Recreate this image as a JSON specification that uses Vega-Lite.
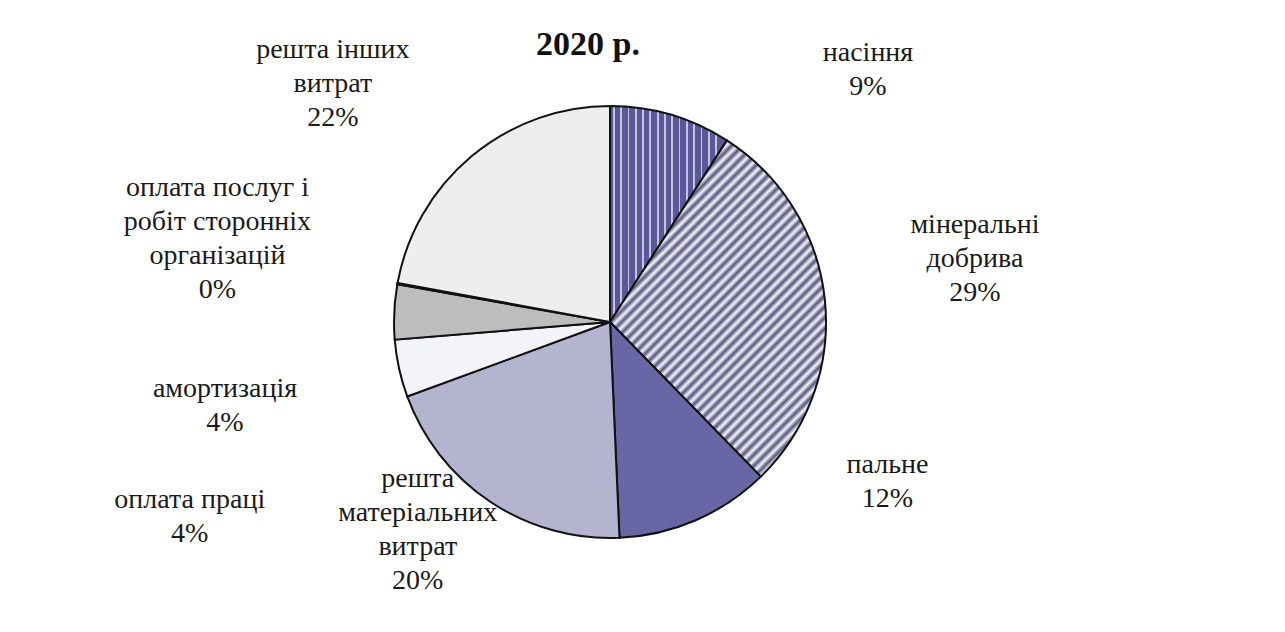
{
  "$schema": "https://vega.github.io/schema/vega-lite/v6.json",
  "autosize": {"type": "none"},
  "width": 1220,
  "height": 620,
  "padding": {"left": 0, "top": 12, "right": 65, "bottom": 0},
  "background": "white",
  "config": {"view": {"stroke": null}},
  "title": {"text": "2020 р.", "frame": "group", "font": "Liberation Serif", "fontSize": 34, "fontWeight": "bold", "color": "#111", "anchor": "middle", "dx": -22, "offset": -50},
  "data": {"values": [
    {"cat": "насіння", "value": 9.1, "order": 1, "label": "насіння\n9%"},
    {"cat": "мінеральні добрива", "value": 28.6, "order": 2, "label": "мінеральні\nдобрива\n29%"},
    {"cat": "пальне", "value": 11.6, "order": 3, "label": "пальне\n12%"},
    {"cat": "решта матеріальних витрат", "value": 20.1, "order": 4, "label": "решта\nматеріальних\nвитрат\n20%"},
    {"cat": "оплата праці", "value": 4.3, "order": 5, "label": "оплата праці\n4%"},
    {"cat": "амортизація", "value": 4.1, "order": 6, "label": "амортизація\n4%"},
    {"cat": "оплата послуг і робіт сторонніх організацій", "value": 0.1, "order": 7, "label": "оплата послуг і\nробіт сторонніх\nорганізацій\n0%"},
    {"cat": "решта інших витрат", "value": 22.1, "order": 8, "label": "решта інших\nвитрат\n22%"}
  ]},
  "transform": [
    {"stack": "value", "groupby": [], "sort": [{"field": "order", "order": "ascending"}], "as": ["v0", "v1"]}
  ],
  "layer": [
    {
      "mark": {"type": "arc", "outerRadius": 216, "stroke": "#111", "strokeWidth": 2},
      "encoding": {
        "theta": {"field": "v0", "type": "quantitative", "stack": null, "scale": {"domain": [0, 100]}},
        "theta2": {"field": "v1"},
        "fill": {
          "condition": [
            {"test": "datum.cat === 'насіння'", "value": {"gradient": "linear", "x1": 0, "y1": 0, "x2": 1, "y2": 0, "stops": [
              {"offset": 0, "color": "#5a5898"},
              {"offset": 0.025, "color": "#5a5898"}, {"offset": 0.025, "color": "#c4c4de"}, {"offset": 0.04, "color": "#c4c4de"}, {"offset": 0.04, "color": "#5a5898"},
              {"offset": 0.0875, "color": "#5a5898"}, {"offset": 0.0875, "color": "#c4c4de"}, {"offset": 0.1025, "color": "#c4c4de"}, {"offset": 0.1025, "color": "#5a5898"},
              {"offset": 0.15, "color": "#5a5898"}, {"offset": 0.15, "color": "#c4c4de"}, {"offset": 0.165, "color": "#c4c4de"}, {"offset": 0.165, "color": "#5a5898"},
              {"offset": 0.2125, "color": "#5a5898"}, {"offset": 0.2125, "color": "#c4c4de"}, {"offset": 0.2275, "color": "#c4c4de"}, {"offset": 0.2275, "color": "#5a5898"},
              {"offset": 0.275, "color": "#5a5898"}, {"offset": 0.275, "color": "#c4c4de"}, {"offset": 0.29, "color": "#c4c4de"}, {"offset": 0.29, "color": "#5a5898"},
              {"offset": 0.3375, "color": "#5a5898"}, {"offset": 0.3375, "color": "#c4c4de"}, {"offset": 0.3525, "color": "#c4c4de"}, {"offset": 0.3525, "color": "#5a5898"},
              {"offset": 0.4, "color": "#5a5898"}, {"offset": 0.4, "color": "#c4c4de"}, {"offset": 0.415, "color": "#c4c4de"}, {"offset": 0.415, "color": "#5a5898"},
              {"offset": 0.4625, "color": "#5a5898"}, {"offset": 0.4625, "color": "#c4c4de"}, {"offset": 0.4775, "color": "#c4c4de"}, {"offset": 0.4775, "color": "#5a5898"},
              {"offset": 0.525, "color": "#5a5898"}, {"offset": 0.525, "color": "#c4c4de"}, {"offset": 0.54, "color": "#c4c4de"}, {"offset": 0.54, "color": "#5a5898"},
              {"offset": 0.5875, "color": "#5a5898"}, {"offset": 0.5875, "color": "#c4c4de"}, {"offset": 0.6025, "color": "#c4c4de"}, {"offset": 0.6025, "color": "#5a5898"},
              {"offset": 0.65, "color": "#5a5898"}, {"offset": 0.65, "color": "#c4c4de"}, {"offset": 0.665, "color": "#c4c4de"}, {"offset": 0.665, "color": "#5a5898"},
              {"offset": 0.7125, "color": "#5a5898"}, {"offset": 0.7125, "color": "#c4c4de"}, {"offset": 0.7275, "color": "#c4c4de"}, {"offset": 0.7275, "color": "#5a5898"},
              {"offset": 0.775, "color": "#5a5898"}, {"offset": 0.775, "color": "#c4c4de"}, {"offset": 0.79, "color": "#c4c4de"}, {"offset": 0.79, "color": "#5a5898"},
              {"offset": 0.8375, "color": "#5a5898"}, {"offset": 0.8375, "color": "#c4c4de"}, {"offset": 0.8525, "color": "#c4c4de"}, {"offset": 0.8525, "color": "#5a5898"},
              {"offset": 0.9, "color": "#5a5898"}, {"offset": 0.9, "color": "#c4c4de"}, {"offset": 0.915, "color": "#c4c4de"}, {"offset": 0.915, "color": "#5a5898"},
              {"offset": 1, "color": "#5a5898"}
            ]}},
            {"test": "datum.cat === 'мінеральні добрива'", "value": {"gradient": "linear", "x1": 0, "y1": 0, "x2": 0.747, "y2": 1.162, "stops": [
              {"offset": 0, "color": "#f6f6fb"}, {"offset": 0.01, "color": "#55557f"}, {"offset": 0.02, "color": "#f6f6fb"}, {"offset": 0.03, "color": "#55557f"}, {"offset": 0.04, "color": "#f6f6fb"},
              {"offset": 0.05, "color": "#55557f"}, {"offset": 0.06, "color": "#f6f6fb"}, {"offset": 0.07, "color": "#55557f"}, {"offset": 0.08, "color": "#f6f6fb"}, {"offset": 0.09, "color": "#55557f"},
              {"offset": 0.1, "color": "#f6f6fb"}, {"offset": 0.11, "color": "#55557f"}, {"offset": 0.12, "color": "#f6f6fb"}, {"offset": 0.13, "color": "#55557f"}, {"offset": 0.14, "color": "#f6f6fb"},
              {"offset": 0.15, "color": "#55557f"}, {"offset": 0.16, "color": "#f6f6fb"}, {"offset": 0.17, "color": "#55557f"}, {"offset": 0.18, "color": "#f6f6fb"}, {"offset": 0.19, "color": "#55557f"},
              {"offset": 0.2, "color": "#f6f6fb"}, {"offset": 0.21, "color": "#55557f"}, {"offset": 0.22, "color": "#f6f6fb"}, {"offset": 0.23, "color": "#55557f"}, {"offset": 0.24, "color": "#f6f6fb"},
              {"offset": 0.25, "color": "#55557f"}, {"offset": 0.26, "color": "#f6f6fb"}, {"offset": 0.27, "color": "#55557f"}, {"offset": 0.28, "color": "#f6f6fb"}, {"offset": 0.29, "color": "#55557f"},
              {"offset": 0.3, "color": "#f6f6fb"}, {"offset": 0.31, "color": "#55557f"}, {"offset": 0.32, "color": "#f6f6fb"}, {"offset": 0.33, "color": "#55557f"}, {"offset": 0.34, "color": "#f6f6fb"},
              {"offset": 0.35, "color": "#55557f"}, {"offset": 0.36, "color": "#f6f6fb"}, {"offset": 0.37, "color": "#55557f"}, {"offset": 0.38, "color": "#f6f6fb"}, {"offset": 0.39, "color": "#55557f"},
              {"offset": 0.4, "color": "#f6f6fb"}, {"offset": 0.41, "color": "#55557f"}, {"offset": 0.42, "color": "#f6f6fb"}, {"offset": 0.43, "color": "#55557f"}, {"offset": 0.44, "color": "#f6f6fb"},
              {"offset": 0.45, "color": "#55557f"}, {"offset": 0.46, "color": "#f6f6fb"}, {"offset": 0.47, "color": "#55557f"}, {"offset": 0.48, "color": "#f6f6fb"}, {"offset": 0.49, "color": "#55557f"},
              {"offset": 0.5, "color": "#f6f6fb"}, {"offset": 0.51, "color": "#55557f"}, {"offset": 0.52, "color": "#f6f6fb"}, {"offset": 0.53, "color": "#55557f"}, {"offset": 0.54, "color": "#f6f6fb"},
              {"offset": 0.55, "color": "#55557f"}, {"offset": 0.56, "color": "#f6f6fb"}, {"offset": 0.57, "color": "#55557f"}, {"offset": 0.58, "color": "#f6f6fb"}, {"offset": 0.59, "color": "#55557f"},
              {"offset": 0.6, "color": "#f6f6fb"}, {"offset": 0.61, "color": "#55557f"}, {"offset": 0.62, "color": "#f6f6fb"}, {"offset": 0.63, "color": "#55557f"}, {"offset": 0.64, "color": "#f6f6fb"},
              {"offset": 0.65, "color": "#55557f"}, {"offset": 0.66, "color": "#f6f6fb"}, {"offset": 0.67, "color": "#55557f"}, {"offset": 0.68, "color": "#f6f6fb"}, {"offset": 0.69, "color": "#55557f"},
              {"offset": 0.7, "color": "#f6f6fb"}, {"offset": 0.71, "color": "#55557f"}, {"offset": 0.72, "color": "#f6f6fb"}, {"offset": 0.73, "color": "#55557f"}, {"offset": 0.74, "color": "#f6f6fb"},
              {"offset": 0.75, "color": "#55557f"}, {"offset": 0.76, "color": "#f6f6fb"}, {"offset": 0.77, "color": "#55557f"}, {"offset": 0.78, "color": "#f6f6fb"}, {"offset": 0.79, "color": "#55557f"},
              {"offset": 0.8, "color": "#f6f6fb"}, {"offset": 0.81, "color": "#55557f"}, {"offset": 0.82, "color": "#f6f6fb"}, {"offset": 0.83, "color": "#55557f"}, {"offset": 0.84, "color": "#f6f6fb"},
              {"offset": 0.85, "color": "#55557f"}, {"offset": 0.86, "color": "#f6f6fb"}, {"offset": 0.87, "color": "#55557f"}, {"offset": 0.88, "color": "#f6f6fb"}, {"offset": 0.89, "color": "#55557f"},
              {"offset": 0.9, "color": "#f6f6fb"}, {"offset": 0.91, "color": "#55557f"}, {"offset": 0.92, "color": "#f6f6fb"}, {"offset": 0.93, "color": "#55557f"}, {"offset": 0.94, "color": "#f6f6fb"},
              {"offset": 0.95, "color": "#55557f"}, {"offset": 0.96, "color": "#f6f6fb"}, {"offset": 0.97, "color": "#55557f"}, {"offset": 0.98, "color": "#f6f6fb"}, {"offset": 0.99, "color": "#55557f"},
              {"offset": 1, "color": "#f6f6fb"}
            ]}}
          ],
          "field": "cat", "type": "nominal", "legend": null, "scale": {
            "domain": ["насіння", "мінеральні добрива", "пальне", "решта матеріальних витрат", "оплата праці", "амортизація", "оплата послуг і робіт сторонніх організацій", "решта інших витрат"],
            "range": ["#5f5e9e", "#b0b0c8", "#6966a6", "#b4b4d0", "#f3f3fa", "#bdbdbd", "#888888", "#eeeeee"]}
        }
      }
    },
    {
      "transform": [{"filter": {"field": "cat", "equal": "насіння"}}],
      "mark": {"type": "text", "radius": 290, "dx": 258, "dy": 21, "font": "Liberation Serif", "fontSize": 28, "lineHeight": 34, "lineBreak": "\n", "color": "#1a1a1a", "align": "center", "baseline": "middle"},
      "encoding": {"theta": {"field": "v0", "type": "quantitative", "stack": null}, "text": {"field": "label"}}
    },
    {
      "transform": [{"filter": {"field": "cat", "equal": "мінеральні добрива"}}],
      "mark": {"type": "text", "radius": 290, "dx": 208, "dy": 147, "font": "Liberation Serif", "fontSize": 28, "lineHeight": 34, "lineBreak": "\n", "color": "#1a1a1a", "align": "center", "baseline": "middle"},
      "encoding": {"theta": {"field": "v0", "type": "quantitative", "stack": null}, "text": {"field": "label"}}
    },
    {
      "transform": [{"filter": {"field": "cat", "equal": "пальне"}}],
      "mark": {"type": "text", "radius": 290, "dx": 75, "dy": -65, "font": "Liberation Serif", "fontSize": 28, "lineHeight": 34, "lineBreak": "\n", "color": "#1a1a1a", "align": "center", "baseline": "middle"},
      "encoding": {"theta": {"field": "v0", "type": "quantitative", "stack": null}, "text": {"field": "label"}}
    },
    {
      "transform": [{"filter": {"field": "cat", "equal": "решта матеріальних витрат"}}],
      "mark": {"type": "text", "radius": 290, "dx": -205, "dy": -133, "font": "Liberation Serif", "fontSize": 28, "lineHeight": 34, "lineBreak": "\n", "color": "#1a1a1a", "align": "center", "baseline": "middle"},
      "encoding": {"theta": {"field": "v0", "type": "quantitative", "stack": null}, "text": {"field": "label"}}
    },
    {
      "transform": [{"filter": {"field": "cat", "equal": "оплата праці"}}],
      "mark": {"type": "text", "radius": 290, "dx": -148, "dy": 78, "font": "Liberation Serif", "fontSize": 28, "lineHeight": 34, "lineBreak": "\n", "color": "#1a1a1a", "align": "center", "baseline": "middle"},
      "encoding": {"theta": {"field": "v0", "type": "quantitative", "stack": null}, "text": {"field": "label"}}
    },
    {
      "transform": [{"filter": {"field": "cat", "equal": "амортизація"}}],
      "mark": {"type": "text", "radius": 290, "dx": -96, "dy": 43, "font": "Liberation Serif", "fontSize": 28, "lineHeight": 34, "lineBreak": "\n", "color": "#1a1a1a", "align": "center", "baseline": "middle"},
      "encoding": {"theta": {"field": "v0", "type": "quantitative", "stack": null}, "text": {"field": "label"}}
    },
    {
      "transform": [{"filter": {"field": "cat", "equal": "оплата послуг і робіт сторонніх організацій"}}],
      "mark": {"type": "text", "radius": 290, "dx": -107, "dy": -83, "font": "Liberation Serif", "fontSize": 28, "lineHeight": 34, "lineBreak": "\n", "color": "#1a1a1a", "align": "center", "baseline": "middle"},
      "encoding": {"theta": {"field": "v0", "type": "quantitative", "stack": null}, "text": {"field": "label"}}
    },
    {
      "transform": [{"filter": {"field": "cat", "equal": "решта інших витрат"}}],
      "mark": {"type": "text", "radius": 290, "dx": 8, "dy": -219, "font": "Liberation Serif", "fontSize": 28, "lineHeight": 34, "lineBreak": "\n", "color": "#1a1a1a", "align": "center", "baseline": "middle"},
      "encoding": {"theta": {"field": "v0", "type": "quantitative", "stack": null}, "text": {"field": "label"}}
    }
  ]
}
